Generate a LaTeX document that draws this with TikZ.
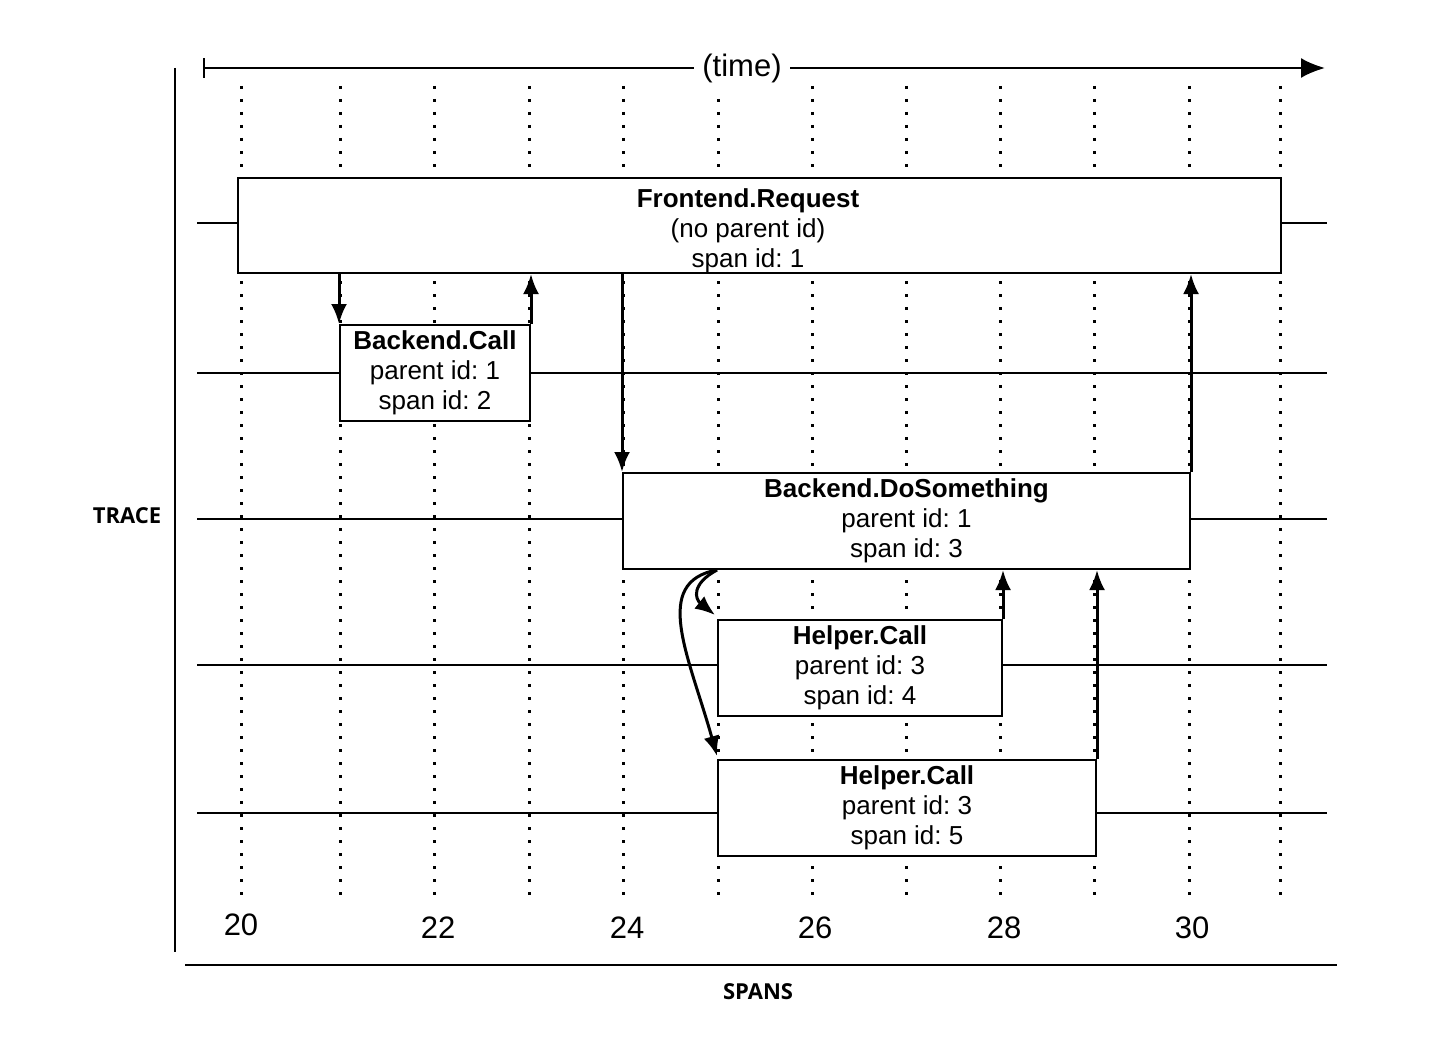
\documentclass[tikz,border=0pt]{standalone}
\usepackage{fontspec}
\setmainfont{Liberation Sans}
\newfontfamily\axisfont{Open Sans}
\usetikzlibrary{arrows.meta}
\frenchspacing

\begin{document}
\begin{tikzpicture}[x=0.5pt,y=-0.5pt,
  spanbox/.style={draw,line width=1pt,fill=white,inner sep=0pt,align=center,font=\fontsize{13}{15}\selectfont},
  gridline/.style={line width=1.5pt,dash pattern=on 1.3pt off 5.2pt},
  traceline/.style={line width=1pt},
  call/.style={line width=1.5pt,-{Latex[length=10pt,width=8pt]}},
  axis/.style={line width=1.4pt},
  tlabel/.style={font=\fontsize{15.5}{18}\selectfont},
  caps/.style={font=\axisfont\bfseries\fontsize{11}{13}\selectfont}]
\useasboundingbox (0,0) rectangle (1434,1038);
% grid of time steps
\foreach \gx in {241,340,434,529,623,718,812,906,1000,1094,1189,1280}
  \draw[gridline] (\gx,86) -- (\gx,900);
% trace rows
\foreach \ty in {223,373,519,665,813}
  \draw[traceline] (197,\ty) -- (1327,\ty);
% axes
\coordinate (tstart) at (203,68);
\coordinate (tend) at (1325,68);
\node[tlabel,fill=white,inner sep=4pt] (time) at (742,68) {(time)};
\draw[line width=1.2pt,{Bar[width=10pt]}-] (tstart) -- (time.west);
\draw[line width=1.2pt,-{Latex[length=12pt,width=10pt]}] (time.east) -- (tend);
\coordinate (ytop) at (175,68);
\coordinate (ybot) at (175,952);
\draw[axis] (ytop) -- (ybot);
\coordinate (xleft) at (185,965);
\coordinate (xright) at (1337,965);
\draw[axis] (xleft) -- (xright);
\node[caps] (trace) at (127,516) {TRACE};
\node[caps] (spans) at (758,992) {SPANS};
% spans
\node[spanbox,minimum width=521.5pt,minimum height=47.5pt] (fe) at (759.5,225.5) {};
\node[spanbox,draw=none,fill=none] (fetext) at (748,231) {\textbf{Frontend.Request}\\(no parent id)\\span id: 1};
\node[spanbox,minimum width=95pt,minimum height=48pt] (bc) at (435,373) {\textbf{Backend.Call}\\parent id: 1\\span id: 2};
\node[spanbox,minimum width=283.5pt,minimum height=48pt] (bd) at (906.5,521) {\textbf{Backend.DoSomething}\\parent id: 1\\span id: 3};
\node[spanbox,minimum width=142pt,minimum height=48pt] (hc4) at (860,668) {\textbf{Helper.Call}\\parent id: 3\\span id: 4};
\node[spanbox,minimum width=189pt,minimum height=48pt] (hc5) at (907,808) {\textbf{Helper.Call}\\parent id: 3\\span id: 5};
% calls and returns
\draw[call] (bc.north west |- fe.south) -- (bc.north west);
\draw[call] (bc.north east) -- (bc.north east |- fe.south);
\draw[call] (bd.north west |- fe.south) -- (bd.north west);
\draw[call] (bd.north east) -- (bd.north east |- fe.south);
\draw[call] (hc4.north west |- bd.south) .. controls +(-26,14) and +(-20,-16) .. ([xshift=-1pt,yshift=2pt]hc4.north west);
\draw[call] (hc5.north west |- bd.south) .. controls +(-66,12) and +(-28,-100) .. ([yshift=1.5pt]hc5.north west);
\draw[call] (hc4.north east) -- (hc4.north east |- bd.south);
\draw[call] (hc5.north east) -- (hc5.north east |- bd.south);
% time values
\foreach \tv/\tx/\tyy in {20/241/925,22/438/928,24/627/928,26/815/928,28/1004/928,30/1192/928}
  \node[tlabel] (t\tv) at (\tx,\tyy) {\tv};
\end{tikzpicture}
\end{document}
